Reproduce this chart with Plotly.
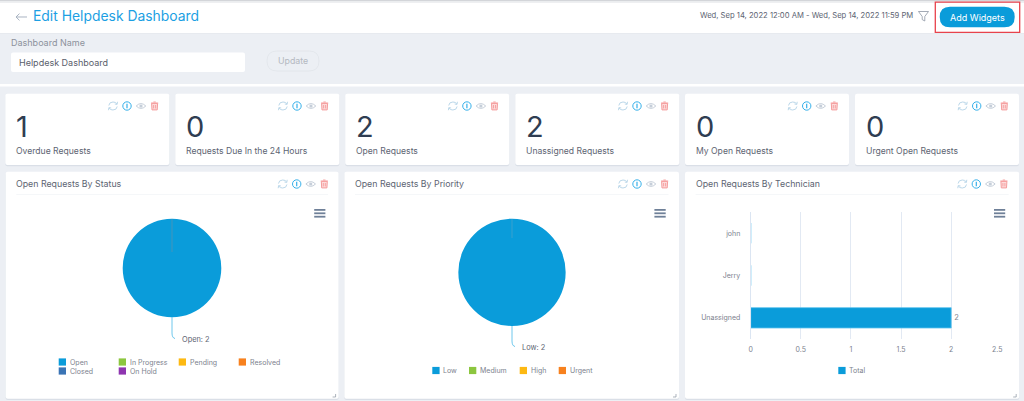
# %% ----------------------------------------
# Requirements and constants
import plotly.graph_objects as go

W, H = 1024, 401
FONT = 'Inter'

page_title = 'Edit Helpdesk Dashboard'
date_range = 'Wed, Sep 14, 2022 12:00 AM - Wed, Sep 14, 2022 11:59 PM'
button_text = 'Add Widgets'
name_label = 'Dashboard Name'
name_value = 'Helpdesk Dashboard'
update_text = 'Update'

kpi_values = [1, 0, 2, 2, 0, 0]
kpi_labels = ['Overdue Requests', 'Requests Due In the 24 Hours', 'Open Requests',
              'Unassigned Requests', 'My Open Requests', 'Urgent Open Requests']

panel_titles = ['Open Requests By Status', 'Open Requests By Priority',
                'Open Requests By Technician']

status_labels = ['Open', 'In Progress', 'Pending', 'Resolved', 'Closed', 'On Hold']
status_values = [2, 0, 0, 0, 0, 0]
status_colors = ['#0a9cda', '#8cc63f', '#fdb913', '#f7811e', '#3a74b5', '#8e35b0']

priority_labels = ['Low', 'Medium', 'High', 'Urgent']
priority_values = [2, 0, 0, 0]
priority_colors = ['#0a9cda', '#8cc63f', '#fdb913', '#f7811e']

tech_names = ['Unassigned', 'Jerry', 'john']
tech_totals = [2, 0, 0]
tech_series = 'Total'
tech_ticks = [0, 0.5, 1, 1.5, 2, 2.5]

BG = '#eceff4'
INK = '#5d6472'
BLUE = '#0a9cda'


# %% ----------------------------------------
# Function and class
def px(x):
    return x / W


def py(y):
    return 1 - y / H


shapes = []
notes = []


def rect(x0, y0, x1, y1, fill, line=None, lw=0, layer='below'):
    shapes.append(dict(type='rect', xref='paper', yref='paper',
                       x0=px(x0), x1=px(x1), y0=py(y0), y1=py(y1),
                       fillcolor=fill, layer=layer,
                       line=dict(color=line or fill, width=lw)))


def path(d, color=None, lw=1, fill='rgba(0,0,0,0)', layer='below'):
    # d is a list of (command, x, y, ...) in pixels
    out = ''
    for seg in d:
        out += seg[0]
        nums = seg[1:]
        pairs = [f'{px(nums[i]):.5f},{py(nums[i + 1]):.5f}' for i in range(0, len(nums), 2)]
        out += ' '.join(pairs) + ' '
    shapes.append(dict(type='path', xref='paper', yref='paper', path=out.strip(),
                       fillcolor=fill, layer=layer,
                       line=dict(color=color or 'rgba(0,0,0,0)', width=lw)))


def rrect(x0, y0, x1, y1, r):
    return [('M', x0 + r, y0), ('L', x1 - r, y0), ('Q', x1, y0, x1, y0 + r),
            ('L', x1, y1 - r), ('Q', x1, y1, x1 - r, y1), ('L', x0 + r, y1),
            ('Q', x0, y1, x0, y1 - r), ('L', x0, y0 + r), ('Q', x0, y0, x0 + r, y0),
            ('Z',)]


def circle(cx, cy, r):
    k = r * 0.552
    return [('M', cx + r, cy),
            ('C', cx + r, cy + k, cx + k, cy + r, cx, cy + r),
            ('C', cx - k, cy + r, cx - r, cy + k, cx - r, cy),
            ('C', cx - r, cy - k, cx - k, cy - r, cx, cy - r),
            ('C', cx + k, cy - r, cx + r, cy - k, cx + r, cy), ('Z',)]


def text(x, y, s, size=8.5, color=INK, anchor='left'):
    notes.append(dict(xref='paper', yref='paper', x=px(x), y=py(y), text=s,
                      showarrow=False, xanchor=anchor, yanchor='middle',
                      borderpad=0, font=dict(family=FONT, size=size, color=color)))


def card(x0, y0, x1, y1):
    path(rrect(x0, y0 + 1, x1, y1 + 1.2, 2), fill='#dadfe7')
    path(rrect(x0, y0, x1, y1, 2), fill='white')


def icons(x, y):
    # refresh, info, eye, trash, each about 9px wide, x is the refresh centre
    c = '#bcd8ea'
    path([('M', x - 4.2, y - 0.5), ('Q', x - 3.8, y - 4, x, y - 4), ('Q', x + 2.6, y - 4, x + 3.9, y - 2.2),
          ('M', x + 4.2, y + 0.5), ('Q', x + 3.8, y + 4, x, y + 4), ('Q', x - 2.6, y + 4, x - 3.9, y + 2.2),
          ('M', x + 4.5, y - 4.2), ('L', x + 4.1, y - 1.6), ('L', x + 1.8, y - 2),
          ('M', x - 4.5, y + 4.2), ('L', x - 4.1, y + 1.6), ('L', x - 1.8, y + 2)], color=c, lw=1)
    path(circle(x + 14, y, 4.2), color='#35b0ea', lw=1)
    path([('M', x + 14, y - 2.2), ('L', x + 14, y + 2.2)], color='#35b0ea', lw=1.2)
    ex = x + 28
    path([('M', ex - 4.8, y), ('Q', ex, y - 4.8, ex + 4.8, y), ('Q', ex, y + 4.8, ex - 4.8, y), ('Z',)],
         color='#c5ced9', lw=1)
    path(circle(ex, y, 1.6), fill='#c5ced9')
    tx = x + 41.6
    path([('M', tx - 3, y - 2.6), ('L', tx - 2.6, y + 3.9), ('L', tx + 2.6, y + 3.9), ('L', tx + 3, y - 2.6), ('Z',)],
         color='#f59c9c', lw=1, fill='rgba(245,156,156,0.35)')
    path([('M', tx - 3.6, y - 3), ('L', tx + 3.6, y - 3),
          ('M', tx - 1.2, y - 4), ('L', tx + 1.2, y - 4),
          ('M', tx - 1, y - 1), ('L', tx - 1, y + 2.4), ('M', tx + 1, y - 1), ('L', tx + 1, y + 2.4)],
         color='#f59c9c', lw=0.9)


def menu(x0, x1, y0):
    for k in range(3):
        rect(x0, y0 + k * 3.4, x1, y0 + k * 3.4 + 1.8, '#6f8098', layer='above')


def grip(x, y):
    path([('M', x, y - 3), ('L', x, y), ('L', x - 3, y)], color='#8a93a0', lw=0.7)


def pie_leader(cx, y0, y1):
    path([('M', cx, y0), ('L', cx, y1), ('Q', cx, y1 + 5, cx + 3, y1 + 5.5)],
         color='#5dc1ea', lw=0.9, layer='above')


def legend_entry(x, y, label, color):
    rect(x, y - 3.6, x + 7.3, y + 3.6, color)
    text(x + 10, y, label, size=7, color='#7c828e')


# %% ----------------------------------------
# Page furniture
rect(0, 0, W, H, BG)
rect(0, 0, W, 33, 'white')
rect(0, 0, W, 1.5, '#d3d5d9')
rect(0, 1.5, W, 3, '#eeeff1')
rect(0, 33, W, 33.6, '#e2e5ea')
rect(0, 84, W, 86.5, 'white')

path([('M', 16, 17), ('L', 27, 17), ('M', 19.5, 13.6), ('L', 16, 17), ('L', 19.5, 20.4)], color='#a9b4c2', lw=1)
text(31.5, 16, page_title, size=13.9, color='#1c9fe3')
text(914, 16, date_range, size=7.65, color=INK, anchor='right')
path([('M', 918.5, 11.5), ('L', 928.5, 11.5), ('L', 924.8, 16.5), ('L', 924.8, 21), ('L', 922.2, 19.6), ('L', 922.2, 16.5), ('Z',)],
     color='#8d96a3', lw=0.8)
path(rrect(939.7, 6.7, 1014.7, 27.3, 10.3), fill=BLUE)
text(977.2, 17.2, button_text, size=9, color='white', anchor='center')
rect(935.3, 2.2, 1019.7, 32.3, 'rgba(0,0,0,0)', line='#e8434c', lw=1.3)

text(10, 43, name_label, size=9, color='#8d929c')
path(rrect(11, 52.5, 245, 72, 2), fill='white')
text(18, 62, name_value, size=9, color='#5a606c')
path(rrect(267, 51, 319, 71, 10), color='#e1e5ea', lw=0.8, fill=BG)
text(292.5, 61, update_text, size=8.8, color='#b4b9c1', anchor='center')

kpi_lefts = [5.3, 175.3, 345.2, 515.3, 685, 855]
for left, value, label in zip(kpi_lefts, kpi_values, kpi_labels):
    card(left, 93.7, left + 164, 165)
    icons(left + 107.7, 106)
    text(left + 9.5, 127, str(value), size=29, color='#2f3d52')
    text(left + 9.7, 151, label, size=8.6, color=INK)

panels = [(5.7, 338.6), (344.4, 679), (685, 1019.2)]
icon_x = [282.7, 623, 962.3]
for (x0, x1), ix, title in zip(panels, icon_x, panel_titles):
    card(x0, 171.7, x1, 398.7)
    text(x0 + 9.6, 183, title, size=8.8, color=INK)
    rect(x0 + 10.6, 194, x1 - 10.5, 194.6, '#eceff3')
    icons(ix, 184)
    grip(x1 - 3, 397)

menu(314.2, 325.4, 209)
menu(654.4, 665.7, 209)
menu(994, 1005.2, 209)


# %% ----------------------------------------
# Charts
fig = go.Figure()

fig.add_trace(go.Pie(labels=status_labels, values=status_values, sort=False,
                     direction='clockwise', textinfo='none', showlegend=False,
                     marker=dict(colors=status_colors, line=dict(width=0)),
                     domain=dict(x=[px(122.7), px(221.3)], y=[py(317.3), py(218.7)])))
fig.add_trace(go.Pie(labels=priority_labels, values=priority_values, sort=False,
                     direction='clockwise', textinfo='none', showlegend=False,
                     marker=dict(colors=priority_colors, line=dict(width=0)),
                     domain=dict(x=[px(458.3), px(565.7)], y=[py(326), py(218.7)])))
fig.add_trace(go.Bar(y=tech_names, x=tech_totals, orientation='h', name=tech_series,
                     marker=dict(color=BLUE, line=dict(color='#5cc3ee', width=0.8)), width=0.48,
                     text=[v if v else '' for v in tech_totals], textposition='outside',
                     cliponaxis=False, showlegend=False,
                     textfont=dict(family=FONT, size=7.5, color='#7c828e')))

# seam left by the empty slices at twelve o'clock
path([('M', 172, 219), ('L', 172, 252)], color='#5f93ad', lw=0.7, layer='above')
path([('M', 512, 219), ('L', 512, 238)], color='#4fa3c9', lw=0.7, layer='above')

pie_leader(172, 317, 333)
text(181, 339, f'{status_labels[0]}: {status_values[0]}', size=7.4, color=INK)
pie_leader(512, 326, 341)
text(521, 347, f'{priority_labels[0]}: {priority_values[0]}', size=7.4, color=INK)

status_slots = [(58.7, 362), (118.7, 362), (178.7, 362), (238.7, 362), (58.7, 371), (118.7, 371)]
for (x, y), label, color in zip(status_slots, status_labels, status_colors):
    legend_entry(x, y, label, color)
priority_slots = [432.3, 469, 519.7, 558.7]
for x, label, color in zip(priority_slots, priority_labels, priority_colors):
    legend_entry(x, 370.5, label, color)
legend_entry(838.3, 370.5, tech_series, BLUE)

# the last tick label sits a little left of its gridline so it stays inside the card
tick_text = [str(t) for t in tech_ticks[:-1]] + ['']
text(996.7, 349, str(tech_ticks[-1]), size=7, color='#7c828e', anchor='center')

fig.update_layout(
    width=W, height=H, margin=dict(l=0, r=0, t=0, b=0, autoexpand=False),
    paper_bgcolor=BG, plot_bgcolor='rgba(0,0,0,0)',
    font=dict(family=FONT, color='#7c828e', size=7),
    shapes=shapes, annotations=notes, bargap=0.52,
    xaxis=dict(domain=[px(750.7), px(1001.3)], range=[0, 2.5], tickvals=tech_ticks,
               ticktext=tick_text, showgrid=True, gridcolor='#e2e9f3',
               gridwidth=1, zeroline=False, showline=False, ticks='outside', ticklen=4,
               automargin=False,
               tickcolor='rgba(0,0,0,0)', tickfont=dict(family=FONT, size=7, color='#7c828e')),
    yaxis=dict(domain=[py(339), py(212)], categoryorder='array', categoryarray=tech_names,
               showgrid=False, zeroline=False, showline=True, linecolor='#dbe5f2', linewidth=1,
               ticks='outside', ticklen=8, automargin=False, tickcolor='rgba(0,0,0,0)',
               tickfont=dict(family=FONT, size=7, color='#7c828e')),
)

fig.write_html('out.html', config=dict(displayModeBar=False),
               post_script="document.body.style.margin='0';")
